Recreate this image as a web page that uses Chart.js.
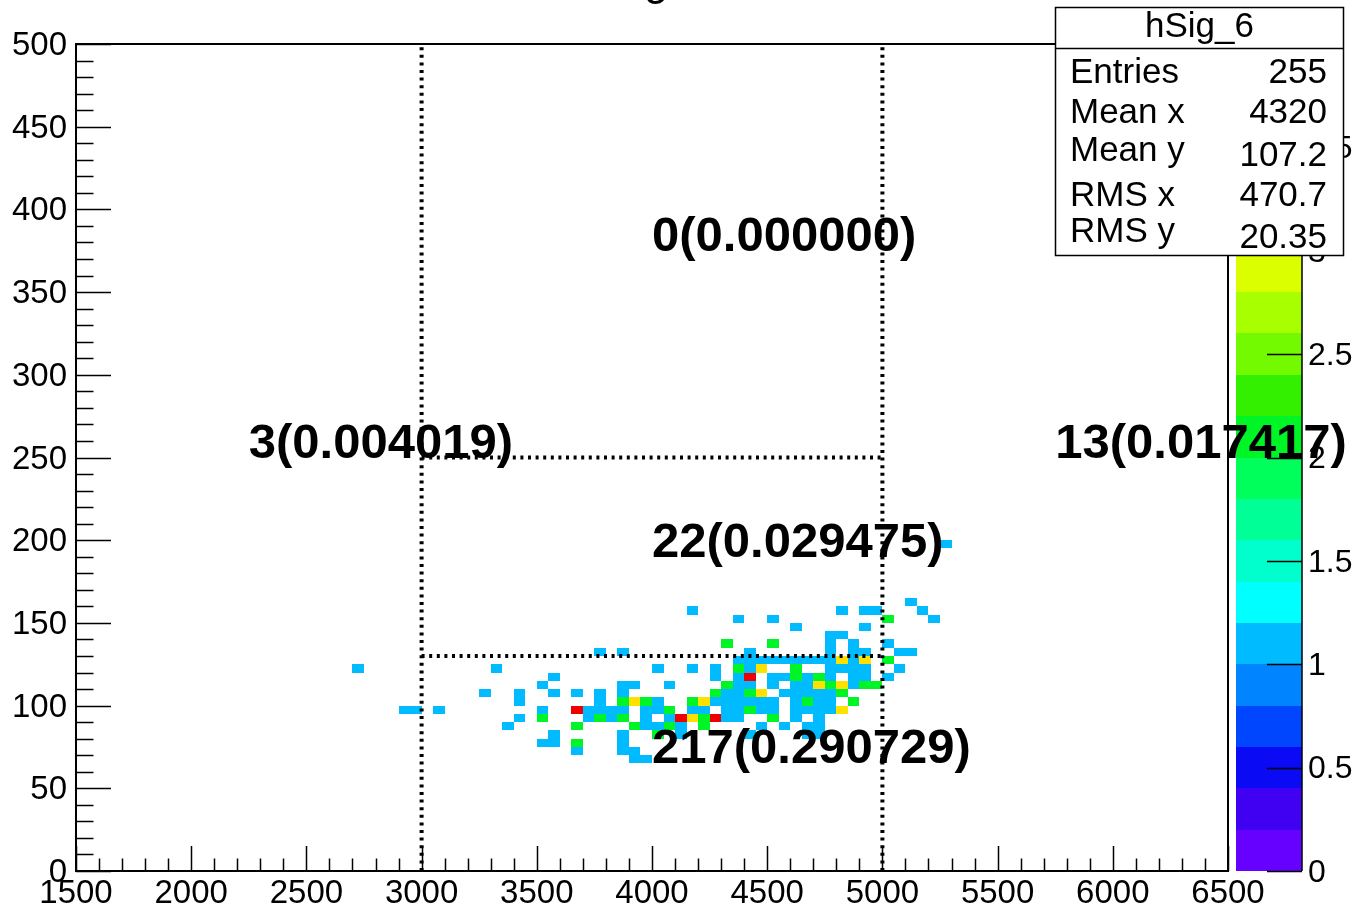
<!DOCTYPE html>
<html><head><meta charset="utf-8">
<script src="https://cdn.jsdelivr.net/npm/chart.js@4.4.1/dist/chart.umd.min.js"></script>
<style>html,body{margin:0;padding:0;background:#fff;}#wrap{width:1360px;height:909px;position:relative;}</style>
</head><body><div id="wrap"><canvas id="c" width="1360" height="909"></canvas></div>
<script>
// ---- histogram hSig_6 : bin lower edges (x step 50, y step 5) and contents ----
const xBinWidth = 50;
const yBinWidth = 5;
const cellX = [
 5250,
 5100,
 4150,4800,4900,4950,5150,
 4350,4500,5000,5200,
 4600,4900,
 4750,4800,
 4300,4500,4750,4850,5000,
 3750,3850,4400,4750,4850,4900,5050,5100,
 4350,4400,4450,4500,4550,4600,4650,4700,4750,4800,4850,4900,5000,
 2700,3300,4000,4150,4250,4350,4400,4450,4600,4750,4800,4850,4900,5050,
 3550,4250,4350,4400,4500,4550,4600,4650,4700,4750,4850,4900,5000,
 3500,3850,3900,4050,4300,4350,4400,4500,4600,4650,4700,4750,4800,4850,4900,4950,
 3250,3400,3550,3650,3750,3850,4250,4300,4350,4400,4450,4550,4600,4650,4700,4750,4800,
 3400,3750,3850,3900,3950,4000,4150,4200,4250,4300,4350,4400,4450,4500,4600,4650,4700,4750,4850,
 2900,2950,3050,3500,3650,3700,3750,3800,3850,3950,4000,4050,4150,4200,4300,4350,4400,4450,4500,4600,4650,4700,4750,4800,
 3400,3500,3700,3750,3800,3850,3950,4050,4100,4150,4200,4250,4300,4350,4500,4600,4700,
 3350,3650,3900,3950,4000,4050,4100,4200,4450,4550,4650,4700,
 3550,3850,4000,4100,4400,4650,4700,
 3500,3550,3650,3850,
 3650,3850,3900,
 3900,3950
];
const cellY = [
 195,
 160,
 155,155,155,155,155,
 150,150,150,150,
 145,145,
 140,140,
 135,135,135,135,135,
 130,130,130,130,130,130,130,130,
 125,125,125,125,125,125,125,125,125,125,125,125,125,
 120,120,120,120,120,120,120,120,120,120,120,120,120,120,
 115,115,115,115,115,115,115,115,115,115,115,115,115,
 110,110,110,110,110,110,110,110,110,110,110,110,110,110,110,110,
 105,105,105,105,105,105,105,105,105,105,105,105,105,105,105,105,105,
 100,100,100,100,100,100,100,100,100,100,100,100,100,100,100,100,100,100,100,
 95,95,95,95,95,95,95,95,95,95,95,95,95,95,95,95,95,95,95,95,95,95,95,95,
 90,90,90,90,90,90,90,90,90,90,90,90,90,90,90,90,90,
 85,85,85,85,85,85,85,85,85,85,85,85,
 80,80,80,80,80,80,80,
 75,75,75,75,
 70,70,70,
 65,65
];
const cellZ = [
 1,
 1,
 1,1,1,1,1,
 1,1,2,1,
 1,1,
 1,1,
 2,2,1,1,1,
 1,1,1,1,1,1,1,1,
 1,1,1,1,1,1,1,1,1,3,1,3,2,
 1,1,1,1,1,2,1,3,2,1,1,1,1,1,
 1,1,1,4,1,1,2,1,2,1,1,1,1,
 1,1,1,1,2,1,1,1,1,1,3,2,3,1,2,2,
 1,1,1,1,1,1,2,1,1,2,3,1,1,1,1,1,2,
 1,1,2,3,2,1,2,3,1,1,1,1,1,1,1,2,1,1,2,
 1,1,1,1,4,1,1,1,1,1,1,2,1,1,1,1,2,1,1,1,1,1,1,3,
 1,2,1,2,1,2,1,1,4,3,2,4,1,1,2,1,1,
 1,2,2,1,1,2,1,2,1,1,1,1,
 1,1,2,1,1,1,1,
 1,1,2,1,
 1,1,1,
 1,1
];
// region cut lines and region annotations
const cutX = [3000, 5000];
const cutY = [130, 250];
const labelTexts = ['0(0.000000)', '3(0.004019)', '22(0.029475)', '13(0.017417)', '217(0.290729)'];
const labelX = [4000, 2250, 4000, 5750, 4000];
const labelY = [375, 250, 190, 250, 65];
// statistics box
const statsTitle = 'hSig_6';
const statsNames = ['Entries', 'Mean x', 'Mean y', 'RMS x', 'RMS y'];
const statsValues = ['255', '4320', '107.2', '470.7', '20.35'];
// colour palette (20 contours between zMin and zMax)
const zMin = 0, zMax = 4;
const zTicks = [0, 0.5, 1, 1.5, 2, 2.5, 3, 3.5, 4];
const paletteColors = [
 '#6600ff','#4000f2','#0a0af5','#0046ff','#0084ff',
 '#00bbff','#00ffff','#00ffcc','#00ff96','#00ff5a',
 '#00f526','#33f000','#73fa00','#a8ff00','#dcff00',
 '#ffe100','#ffb400','#ff7800','#ff3c00','#ee0000'
];
const FONT = "'Liberation Sans', Arial, Helvetica, sans-serif";

function colourFor(v){
  const n = paletteColors.length;
  let b = Math.floor((v - zMin) / (zMax - zMin) * n + 1e-9);
  if (b < 0) b = 0; if (b > n - 1) b = n - 1;
  return paletteColors[b];
}

const rootPlugin = {
  id: 'rootPlugin',
  beforeDatasetsDraw(chart){
    const ctx = chart.ctx, xs = chart.scales.x, ys = chart.scales.y;
    const ds = chart.data.datasets[0].data;
    ctx.save();
    ds.forEach(p => {
      const x0 = xs.getPixelForValue(p.x), x1 = xs.getPixelForValue(p.x + xBinWidth);
      const y0 = ys.getPixelForValue(p.y + yBinWidth), y1 = ys.getPixelForValue(p.y);
      ctx.fillStyle = colourFor(p.v);
      ctx.fillRect(Math.round(x0), Math.round(y0), Math.round(x1) - Math.round(x0), Math.round(y1) - Math.round(y0));
    });
    ctx.restore();
  },
  afterDraw(chart){
    const ctx = chart.ctx, xs = chart.scales.x, ys = chart.scales.y, zs = chart.scales.z;
    const a = chart.chartArea;
    ctx.save();
    // dotted cut lines
    ctx.strokeStyle = '#000'; ctx.lineWidth = 4; ctx.setLineDash([3, 4.6]);
    cutX.forEach(v => {
      const px = xs.getPixelForValue(v);
      ctx.beginPath(); ctx.moveTo(px, a.bottom); ctx.lineTo(px, a.top); ctx.stroke();
    });
    cutY.forEach(v => {
      const py = ys.getPixelForValue(v);
      ctx.beginPath(); ctx.moveTo(xs.getPixelForValue(cutX[0]), py); ctx.lineTo(xs.getPixelForValue(cutX[1]), py); ctx.stroke();
    });
    ctx.setLineDash([]);
    // axis ticks inside the frame
    ctx.lineWidth = 1.5;
    ctx.beginPath();
    for (let v = xs.min; v <= xs.max + 1e-6; v += 100) {
      const px = Math.round(xs.getPixelForValue(v)) + 0.5;
      const len = (Math.abs(v % 500) < 1e-6) ? 25 : 12.5;
      ctx.moveTo(px, a.bottom); ctx.lineTo(px, a.bottom - len);
    }
    for (let v = ys.min; v <= ys.max + 1e-6; v += 10) {
      const py = Math.round(ys.getPixelForValue(v)) + 0.5;
      const len = (Math.abs(v % 50) < 1e-6) ? 35 : 17.5;
      ctx.moveTo(a.left, py); ctx.lineTo(a.left + len, py);
    }
    ctx.stroke();
    // frame
    ctx.lineWidth = 2;
    ctx.strokeRect(a.left, a.top, a.right - a.left, a.bottom - a.top);
    // palette
    const pl = a.right + 8, pr = a.right + 74;
    const n = paletteColors.length;
    for (let i = 0; i < n; i++) {
      const z0 = zMin + (zMax - zMin) * i / n, z1 = zMin + (zMax - zMin) * (i + 1) / n;
      const y0 = zs.getPixelForValue(z1), y1 = zs.getPixelForValue(z0);
      ctx.fillStyle = paletteColors[i];
      ctx.fillRect(pl, Math.round(y0), pr - pl, Math.round(y1) - Math.round(y0));
    }
    ctx.lineWidth = 1.5; ctx.strokeStyle = '#000';
    ctx.beginPath(); ctx.moveTo(pr, a.top); ctx.lineTo(pr, a.bottom); ctx.stroke();
    ctx.fillStyle = '#000'; ctx.font = '32px ' + FONT; ctx.textAlign = 'left'; ctx.textBaseline = 'middle';
    ctx.beginPath();
    zTicks.forEach(t => {
      const py = Math.round(zs.getPixelForValue(t)) + 0.5;
      ctx.moveTo(pr - 35, py); ctx.lineTo(pr, py);
    });
    ctx.stroke();
    zTicks.forEach(t => {
      const py = zs.getPixelForValue(t);
      ctx.fillText(String(t), pr + 6, py + 2);
    });
    // region annotations
    ctx.font = 'bold 49px ' + FONT; ctx.textBaseline = 'alphabetic'; ctx.textAlign = 'left';
    labelTexts.forEach((t, i) => {
      ctx.fillText(t, xs.getPixelForValue(labelX[i]), ys.getPixelForValue(labelY[i]));
    });
    // histogram title (mostly above the canvas)
    ctx.font = '44px ' + FONT; ctx.textAlign = 'left';
    ctx.fillText('g', 644, -5);
    // statistics box
    const bx = 1055.5, by = 7.5, bw = 288, bh = 248;
    ctx.fillStyle = '#fff'; ctx.fillRect(bx, by, bw, bh);
    ctx.strokeStyle = '#000'; ctx.lineWidth = 1.5; ctx.strokeRect(bx, by, bw, bh);
    ctx.beginPath(); ctx.moveTo(bx, 48.5); ctx.lineTo(bx + bw, 48.5); ctx.stroke();
    ctx.fillStyle = '#000'; ctx.font = '35px ' + FONT;
    ctx.textAlign = 'center'; ctx.fillText(statsTitle, bx + bw / 2, 37);
    const nameBase = [83, 123, 161, 206, 242];
    const valBase = [83, 123, 166, 206, 248];
    statsNames.forEach((s, i) => {
      ctx.textAlign = 'left'; ctx.fillText(s, 1070, nameBase[i]);
      ctx.textAlign = 'right'; ctx.fillText(statsValues[i], 1327, valBase[i]);
    });
    ctx.restore();
  }
};

new Chart(document.getElementById('c').getContext('2d'), {
  type: 'scatter',
  data: { datasets: [{ data: cellX.map((x, i) => ({ x: x, y: cellY[i], v: cellZ[i] })), pointRadius: 0, pointHoverRadius: 0 }] },
  options: {
    responsive: false, animation: false, events: [],
    layout: { padding: { top: 44, right: 132, left: 0, bottom: 0 } },
    plugins: { legend: { display: false }, tooltip: { enabled: false }, title: { display: false } },
    scales: {
      x: {
        type: 'linear', min: 1500, max: 6500, position: 'bottom',
        grid: { display: false, drawTicks: false }, border: { display: false },
        ticks: { stepSize: 500, color: '#000', font: { family: FONT, size: 33 }, padding: 3, maxRotation: 0, autoSkip: false, callback: v => String(v) },
        afterFit(s) { s.height = 38; }
      },
      y: {
        type: 'linear', min: 0, max: 500, position: 'left',
        grid: { display: false, drawTicks: false }, border: { display: false },
        ticks: { stepSize: 50, color: '#000', font: { family: FONT, size: 33 }, padding: 9, labelOffset: 2, autoSkip: false, callback: v => String(v) },
        afterFit(s) { s.width = 76; }
      },
      z: { type: 'linear', min: zMin, max: zMax, position: 'right', display: false }
    }
  },
  plugins: [rootPlugin]
});
</script></body></html>
